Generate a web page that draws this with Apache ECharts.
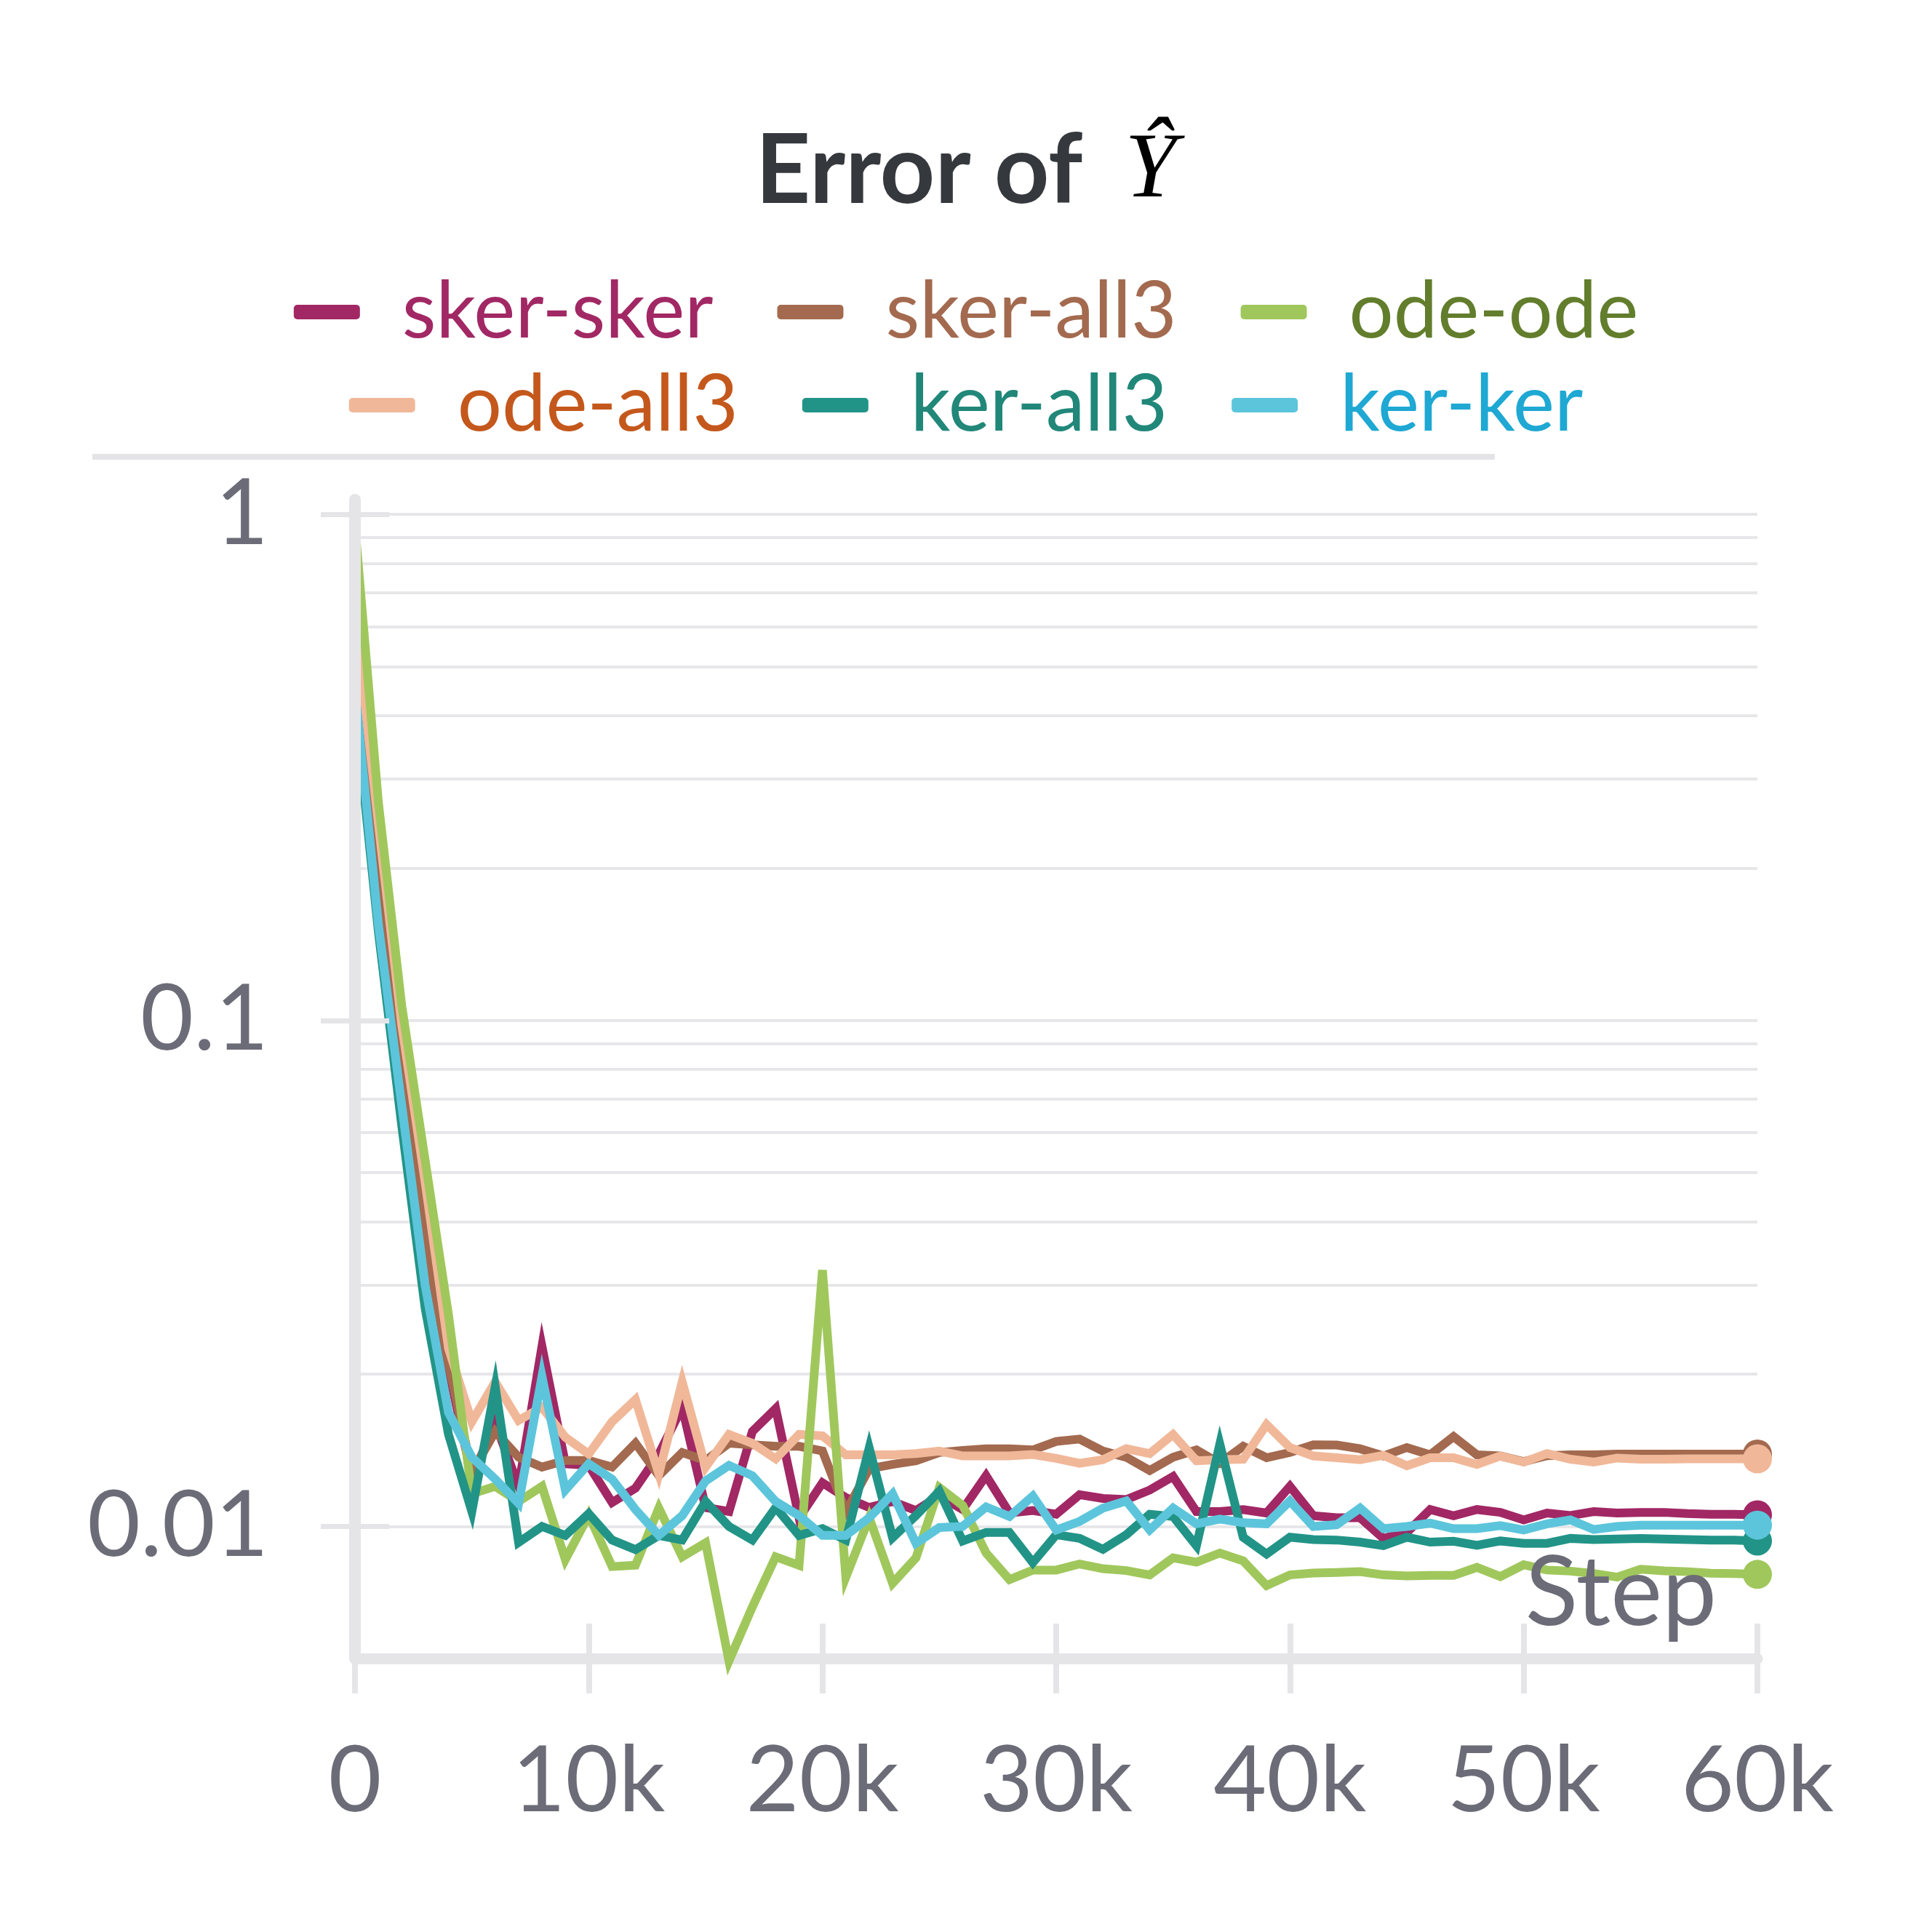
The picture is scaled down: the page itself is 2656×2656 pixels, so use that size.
<!DOCTYPE html>
<html><head><meta charset="utf-8">
<script src="https://cdn.jsdelivr.net/npm/echarts@6/dist/echarts.min.js"></script>
<style>html,body{margin:0;padding:0;background:#fff}#c{width:2656px;height:2656px}</style>
</head><body><div id="c"></div>
<script>
const steps = [0,1000,2000,3000,4000,5000,6000,7000,8000,9000,
10000,11000,12000,13000,14000,15000,16000,17000,18000,19000,
20000,21000,22000,23000,24000,25000,26000,27000,28000,29000,
30000,31000,32000,33000,34000,35000,36000,37000,38000,39000,
40000,41000,42000,43000,44000,45000,46000,47000,48000,49000,
50000,51000,52000,53000,54000,55000,56000,57000,58000,59000,60000];

const skerSker = [0.55,0.19,0.082,0.036,0.0205,0.0125,0.0160,0.0120,0.0227,0.0133,
0.0132,0.01115,0.0119,0.0139,0.0172,0.0109,0.0107,0.0154,0.0171,0.0104,
0.0122,0.0114,0.0109,0.0112,0.01075,0.0115,0.0108,0.0126,0.01063,0.01075,
0.01057,0.01155,0.01136,0.0113,0.0118,0.01255,0.0107,0.0107,0.0108,0.01063,
0.0120,0.0105,0.0104,0.0104,0.00947,0.00973,0.0108,0.0105,0.0108,0.01066,
0.0103,0.01063,0.01051,0.0107,0.01063,0.01066,0.01066,0.0106,0.01057,0.01057,
0.01054];
const skerAll3 = [0.55,0.19,0.084,0.037,0.021,0.0128,0.0154,0.0137,0.0131,0.0135,
0.0135,0.0131,0.0146,0.0126,0.0140,0.0135,0.0146,0.0145,0.0144,0.0144,
0.0141,0.0107,0.0130,0.01326,0.01348,0.0140,0.01413,0.01424,0.01424,0.01416,
0.01472,0.01488,0.01409,0.0137,0.0129,0.0137,0.01416,0.01333,0.0144,0.01367,
0.0140,0.0145,0.01448,0.01424,0.01378,0.01432,0.01385,0.01505,0.01385,0.01378,
0.01343,0.0138,0.01385,0.01385,0.0139,0.0139,0.0139,0.0139,0.0139,0.0139,
0.0139];
const odeOde = [0.95,0.27,0.107,0.053,0.0262,0.0116,0.0120,0.0112,0.0120,0.0086,
0.01053,0.00833,0.00838,0.01087,0.00871,0.00928,0.00542,0.00693,0.00871,0.00838,
0.0321,0.00794,0.0104,0.00772,0.00867,0.01194,0.0110,0.00886,0.00785,0.0082,
0.0082,0.00843,0.00825,0.00818,0.00802,0.00867,0.0085,0.00886,0.00855,0.00764,
0.00802,0.00809,0.00811,0.00814,0.00802,0.00798,0.0080,0.0080,0.0083,0.00796,
0.0084,0.0082,0.00816,0.00807,0.00794,0.00823,0.00817,0.00814,0.00808,0.00807,
0.00804];
const odeAll3 = [0.63,0.245,0.098,0.048,0.0225,0.0161,0.0193,0.0162,0.0172,0.0150,
0.0139,0.0161,0.0178,0.0127,0.0193,0.0131,0.0152,0.0146,0.0136,0.0152,
0.0151,0.01385,0.01385,0.01385,0.01393,0.01409,0.01378,0.01378,0.01378,0.01387,
0.01363,0.01333,0.01355,0.01424,0.01393,0.0152,0.01348,0.01355,0.01358,0.0159,
0.01432,0.01378,0.01367,0.01355,0.01382,0.01318,0.01367,0.01367,0.01326,0.01378,
0.0134,0.01393,0.01358,0.0134,0.01365,0.01358,0.01358,0.0136,0.0136,0.0136,
0.0136];
const kerAll3 = [0.42,0.150,0.062,0.027,0.0152,0.0107,0.0189,0.0093,0.0100,0.0096,
0.0106,0.0094,0.0090,0.0096,0.0094,0.0112,0.0100,0.0094,0.0109,0.0096,
0.0099,0.0094,0.0143,0.0095,0.01051,0.01174,0.00936,0.00973,0.00973,0.00848,
0.00963,0.00947,0.00901,0.00963,0.01057,0.01046,0.00916,0.01455,0.00952,0.00882,
0.00952,0.00942,0.0094,0.00931,0.00916,0.00952,0.00931,0.00935,0.00918,0.00936,
0.00926,0.00926,0.00947,0.00942,0.00944,0.00947,0.00944,0.00942,0.0094,0.0094,
0.00936];
const kerKer = [0.45,0.155,0.068,0.030,0.0168,0.0137,0.0124,0.0111,0.0198,0.0118,
0.0133,0.0124,0.0108,0.0096,0.0105,0.0123,0.0132,0.0126,0.0112,0.0105,
0.0096,0.0096,0.0104,0.0116,0.00926,0.00995,0.0100,0.01093,0.01046,0.01148,
0.00984,0.01023,0.01087,0.01123,0.00984,0.01087,0.01012,0.01034,0.01017,0.01012,
0.01123,0.0100,0.01008,0.01087,0.0099,0.0100,0.01015,0.0099,0.0099,0.01004,
0.00984,0.01012,0.0103,0.00986,0.0100,0.01006,0.01006,0.01006,0.01006,0.01006,
0.01006];

const gridValues = [0.006,0.007,0.008,0.009,0.01,0.02,0.03,0.04,0.05,0.06,0.07,0.08,0.09,
0.1,0.2,0.3,0.4,0.5,0.6,0.7,0.8,0.9,1];
const yTickValues = [0.01,0.1,1];

const Y_MIN = 0.005483, Y_MAX = 1.0688;
const AXIS = '#e5e5e8', GRIDC = '#e7e7ea', LABEL = '#6c6c78';
const FONT = 'Lato';

function mk(name, arr, color, z) {
  return {
    name: name, type: 'line', xAxisIndex: 0, yAxisIndex: 0,
    data: steps.map((s, i) => [s, arr[i]]),
    lineStyle: {width: 12, color: color, join: 'miter'},
    itemStyle: {color: color},
    symbol: 'circle',
    symbolSize: (v, p) => p.dataIndex === steps.length - 1 ? 40 : 0,
    showSymbol: true, showAllSymbol: true,
    clip: false, z: z, silent: true,
    emphasis: {disabled: true}
  };
}

const chart = echarts.init(document.getElementById('c'), null, {renderer: 'canvas', width: 2656, height: 2656});

const legendBase = {
  icon: 'roundRect', itemWidth: 91, itemHeight: 20, itemGap: 88,
  left: 'center', selectedMode: false,
  textStyle: {fontFamily: FONT, fontSize: 108, padding: [0, 0, 0, 53], lineHeight: 120}
};

chart.setOption({
  animation: false,
  backgroundColor: '#ffffff',
  title: {
    text: '{a|Error of}{s| }{b|Ŷ}', left: 'center', top: 165,
    textStyle: {
      rich: {
        a: {fontFamily: FONT, fontWeight: 'bold', fontSize: 132, color: '#35393d'},
        s: {width: 58, fontSize: 130},
        b: {fontFamily: 'Liberation Serif', fontStyle: 'italic', fontWeight: 'normal', fontSize: 128, color: '#000000'}
      }
    }
  },
  legend: [
    Object.assign({}, legendBase, {top: 364, data: [
      {name: 'sker-sker', textStyle: {color: '#a12864'}},
      {name: 'sker-all3', textStyle: {color: '#a36a4f'}},
      {name: 'ode-ode', textStyle: {color: '#627d2c'}}
    ]}),
    Object.assign({}, legendBase, {top: 492, data: [
      {name: 'ode-all3', textStyle: {color: '#c4581c'}},
      {name: 'ker-all3', textStyle: {color: '#218779'}},
      {name: 'ker-ker', textStyle: {color: '#1ea8d3'}}
    ]})
  ],
  graphic: [{
    type: 'line', shape: {x1: 127, y1: 628, x2: 2055, y2: 628},
    style: {stroke: '#e4e4e7', lineWidth: 8}, silent: true
  }],
  grid: [
    {left: 488, right: 240, top: 687, bottom: 376},
    {left: 441, width: 94, top: 687, bottom: 376}
  ],
  xAxis: [
    {
      type: 'value', gridIndex: 0, min: 0, max: 60000, interval: 10000,
      axisLine: {show: true, lineStyle: {color: AXIS, width: 15}},
      axisTick: {show: true, inside: false, length: 48, lineStyle: {color: AXIS, width: 8}},
      axisLabel: {show: true, fontFamily: FONT, fontSize: 126, color: LABEL, margin: 106,
        formatter: v => v === 0 ? '0' : (v / 1000) + 'k'},
      splitLine: {show: false}
    },
    {
      type: 'value', gridIndex: 0, min: 0, max: 60000, interval: 10000, position: 'bottom', offset: 0, z: 10,
      axisLine: {show: false},
      axisTick: {show: true, inside: true, length: 48, lineStyle: {color: AXIS, width: 8}},
      axisLabel: {show: false}, splitLine: {show: false},
      name: 'Step', nameLocation: 'end', nameGap: -56,
      nameTextStyle: {fontFamily: FONT, fontSize: 134, color: LABEL, align: 'right', verticalAlign: 'bottom', padding: [0, 0, 22, 0]}
    },
    {type: 'value', gridIndex: 1, min: 0, max: 1, show: false}
  ],
  yAxis: [
    {
      type: 'log', logBase: 10, gridIndex: 0, min: Y_MIN, max: Y_MAX, z: 10,
      axisLine: {show: true, lineStyle: {color: AXIS, width: 16}},
      axisTick: {show: false},
      axisLabel: {show: true, fontFamily: FONT, fontSize: 126, color: LABEL, margin: 119,
        formatter: v => {
          const l = Math.log10(v);
          return Math.abs(l - Math.round(l)) < 1e-6 ? String(+Math.pow(10, Math.round(l)).toPrecision(3)) : '';
        }},
      splitLine: {show: false}
    },
    {type: 'log', logBase: 10, gridIndex: 1, min: Y_MIN, max: Y_MAX, show: false}
  ],
  series: [
    {
      type: 'line', name: '_grid', xAxisIndex: 0, yAxisIndex: 0, data: [], silent: true, z: 1,
      markLine: {
        silent: true, z: 1, symbol: ['none', 'none'], label: {show: false},
        lineStyle: {color: GRIDC, width: 4, type: 'solid'},
        emphasis: {disabled: true},
        data: gridValues.map(v => ({yAxis: v}))
      }
    },
    {
      type: 'line', name: '_ticks', xAxisIndex: 2, yAxisIndex: 1, data: [], silent: true, z: 11,
      markLine: {
        silent: true, z: 11, symbol: ['none', 'none'], label: {show: false},
        lineStyle: {color: AXIS, width: 7, type: 'solid'},
        emphasis: {disabled: true},
        data: yTickValues.map(v => [{coord: [0, v]}, {coord: [1, v]}])
      }
    },
    mk('sker-sker', skerSker, '#a12864', 2),
    mk('sker-all3', skerAll3, '#a36a4f', 3),
    mk('ode-all3', odeAll3, '#f0b899', 4),
    mk('ode-ode', odeOde, '#a0c75c', 5),
    mk('ker-all3', kerAll3, '#229487', 6),
    mk('ker-ker', kerKer, '#5cc5db', 7)
  ]
});
</script>
</body></html>
